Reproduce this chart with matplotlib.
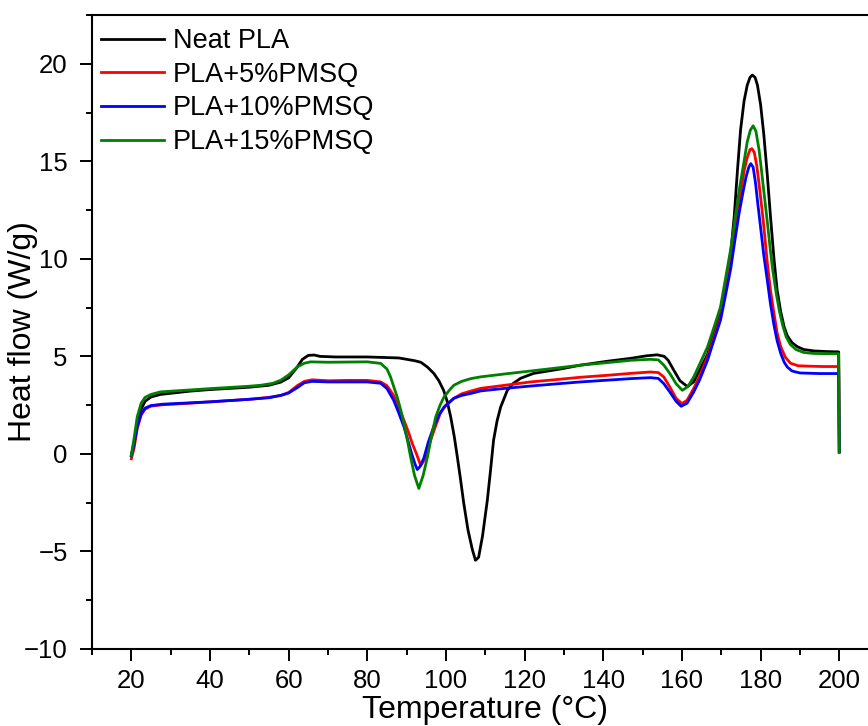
import numpy as np
import matplotlib
matplotlib.use("Agg")
import matplotlib.pyplot as plt
from matplotlib.ticker import MultipleLocator

# DSC curves: temperature (C) and heat flow (W/g)
labels = ["Neat PLA", "PLA+5%PMSQ", "PLA+10%PMSQ", "PLA+15%PMSQ"]
colors = ["#000000", "#ff0000", "#0000ff", "#008000"]

t_neat = [20, 20.7, 21.5, 22.5, 23.5, 25, 27.4, 35, 40, 50, 55, 58, 60, 62, 63.5, 65, 66.5, 68, 72, 80, 88,
          92, 93.6, 95.3, 96.9, 98.2, 99.4, 100.3, 101.2, 102.1, 102.9, 103.7, 104.5, 105.6, 106.7, 107.5,
          108.3, 109.3, 110.5, 111.3, 112.1, 113, 113.9, 115.6, 117, 119, 122.3, 129, 134.2, 141, 147, 151,
          153.7, 155.5, 156.5, 157.9, 159.5, 161.4, 163, 164.5, 166.5, 168, 169.8, 171, 172.4, 173.3, 174.1,
          174.9, 175.8, 176.6, 177.3, 177.9, 178.6, 179.2, 180, 180.8, 181.7, 182.5, 183.4, 184.2, 185.1,
          186, 186.8, 188, 189.3, 191, 193.5, 196.5, 199.85, 200]
hf_neat = [-0.07, 0.6, 1.5, 2.3, 2.7, 2.92, 3.05, 3.22, 3.3, 3.42, 3.52, 3.68, 3.9, 4.4, 4.85, 5.05, 5.07, 5.0,
           4.97, 4.97, 4.92, 4.78, 4.7, 4.45, 4.13, 3.75, 3.26, 2.7, 1.9, 0.9, -0.17, -1.3, -2.5, -3.9, -4.9,
           -5.45, -5.3, -4.2, -2.4, -0.9, 0.7, 1.7, 2.4, 3.26, 3.6, 3.88, 4.13, 4.35, 4.55, 4.75, 4.9, 5.03,
           5.08, 5.0, 4.8, 4.3, 3.75, 3.45, 3.7, 4.3, 5.1, 6.1, 7.35, 8.6, 10.3, 12.2, 14.5, 16.6, 18.1, 18.9,
           19.3, 19.42, 19.3, 18.9, 17.9, 16.4, 14.3, 12.2, 10.0, 8.4, 7.3, 6.5, 6.05, 5.7, 5.5, 5.35, 5.28,
           5.25, 5.23, 0.1]

t_5 = [20, 20.7, 21.5, 22.5, 23.5, 25, 28, 35, 40, 50, 55, 58, 60, 62.2, 64, 66, 70, 75, 80, 83.4, 85, 86.7,
       88, 89.3, 90.5, 91.4, 92.5, 93.6, 94.5, 95.3, 96.1, 97.3, 98.6, 100, 102, 104, 106.3, 108.8, 115,
       121.5, 128, 134.2, 141, 147, 152, 154, 155.4, 157, 158.5, 160, 161.3, 163, 164.5, 166.5, 168, 169.8,
       171, 172.4, 173.3, 174.1, 175, 175.8, 176.6, 177.3, 177.8, 178.4, 179, 179.6, 180.2, 180.7, 181.7,
       182.5, 183.4, 184.2, 185.1, 186.3, 187.6, 189.5, 192, 196, 199.85, 200]
hf_5 = [-0.25, 0.3, 1.3, 2.0, 2.3, 2.45, 2.52, 2.6, 2.67, 2.8, 2.9, 3.0, 3.15, 3.5, 3.72, 3.8, 3.75, 3.77,
        3.77, 3.69, 3.5, 3.0, 2.4, 1.73, 1.1, 0.55, 0.0, -0.6, -0.3, 0.2, 0.7, 1.4, 2.1, 2.5, 2.85, 3.08, 3.22,
        3.36, 3.52, 3.69, 3.81, 3.93, 4.03, 4.13, 4.2, 4.17, 3.94, 3.4, 2.85, 2.58, 2.75, 3.36, 4.0, 4.97,
        5.9, 7.0, 8.3, 9.9, 11.1, 12.2, 13.5, 14.5, 15.2, 15.6, 15.65, 15.45, 14.8, 13.85, 12.8, 11.9, 9.8,
        8.4, 7.2, 6.2, 5.5, 4.95, 4.65, 4.52, 4.5, 4.48, 4.48, 0.1]

t_10 = [20, 20.7, 21.5, 22.5, 23.5, 25, 28, 35, 40, 50, 55, 58, 60, 62.2, 64, 66, 70, 80, 83.4, 85, 86.7, 88,
        89.3, 90.3, 91.4, 92.1, 92.7, 93.4, 94.4, 95.5, 96.9, 98.2, 99.5, 102, 104, 106.3, 108.8, 115, 121.5,
        128, 134.2, 141, 147, 152, 154, 155.4, 157, 158.5, 159.8, 161.3, 163, 164.5, 166.5, 168, 169.8,
        171, 172.4, 173.5, 174.5, 175.5, 176.3, 177, 177.5, 178.1, 178.7, 179.3, 180, 180.8, 181.7, 182.5,
        183.4, 184.2, 185.1, 186, 186.8, 188, 190, 195, 199.85, 200]
hf_10 = [-0.1, 0.5, 1.4, 2.05, 2.35, 2.48, 2.55, 2.62, 2.67, 2.8, 2.88, 3.0, 3.12, 3.4, 3.65, 3.72, 3.69,
         3.69, 3.62, 3.35, 2.75, 2.1, 1.4, 0.7, -0.07, -0.5, -0.8, -0.65, -0.2, 0.6, 1.4, 2.0, 2.4, 2.85, 3.0,
         3.1, 3.23, 3.36, 3.48, 3.59, 3.69, 3.78, 3.86, 3.91, 3.87, 3.6, 3.15, 2.7, 2.44, 2.6, 3.18, 3.8, 4.8,
         5.75, 6.85, 8.05, 9.5, 11.0, 12.3, 13.4, 14.2, 14.7, 14.88, 14.7, 13.9, 12.8, 11.6, 10.2, 8.9, 7.7,
         6.6, 5.8, 5.16, 4.7, 4.45, 4.25, 4.15, 4.12, 4.12, 0.1]

t_15 = [20, 20.7, 21.5, 22.5, 23.5, 25, 27.4, 35, 40.2, 50, 52.9, 56, 58, 60, 62.2, 64, 65.6, 70, 80, 83.4,
        85, 85.9, 86.8, 87.6, 88.5, 89.3, 90.2, 91, 92, 93.1, 94.2, 95.3, 96.3, 97.4, 98.5, 99.5, 101, 102,
        104, 106.3, 108.8, 115, 121.5, 128, 134.2, 141, 147, 152, 154, 155.4, 157, 158.5, 160.1, 161.5, 163,
        164.5, 166.5, 168, 169.8, 171, 172.4, 173.6, 174.7, 175.8, 176.6, 177.4, 178.1, 178.8, 179.6, 180.3,
        180.8, 181.7, 182.5, 183.1, 184, 184.8, 185.6, 186.5, 187.6, 189, 191, 193.5, 196.5, 199.85, 200]
hf_15 = [-0.07, 0.8, 1.9, 2.6, 2.9, 3.05, 3.18, 3.28, 3.35, 3.47, 3.52, 3.62, 3.78, 4.05, 4.46, 4.65, 4.72,
         4.7, 4.72, 4.64, 4.35, 3.95, 3.4, 2.92, 2.25, 1.57, 0.7, -0.15, -1.1, -1.77, -1.1, -0.15, 0.9, 1.9,
         2.5, 2.92, 3.3, 3.52, 3.72, 3.86, 3.95, 4.1, 4.25, 4.4, 4.55, 4.68, 4.8, 4.85, 4.82, 4.55, 4.1, 3.6,
         3.26, 3.45, 3.95, 4.6, 5.48, 6.4, 7.53, 8.9, 10.5, 12.2, 13.7, 15.0, 16.0, 16.6, 16.82, 16.55, 15.6,
         14.4, 13.5, 11.9, 10.4, 9.4, 8.2, 7.3, 6.6, 6.0, 5.6, 5.35, 5.2, 5.15, 5.14, 5.14, 0.1]

temps = [t_neat, t_5, t_10, t_15]
flows = [hf_neat, hf_5, hf_10, hf_15]

plt.rcParams['font.family'] = ['Liberation Sans', 'DejaVu Sans']

fig = plt.figure(figsize=(8.68, 7.26), dpi=100)
# axes run past the right edge of the picture, like the original crop
ax = fig.add_axes([92 / 868, 77 / 726, 786.6 / 868, 634 / 726])

for t, hf, lab, c in zip(temps, flows, labels, colors):
    ax.plot(t, hf, color=c, lw=2.0, label=lab)

ax.set_xlim(10, 210)
ax.set_ylim(-10, 22.5)
ax.xaxis.set_minor_locator(MultipleLocator(10))
ax.yaxis.set_major_locator(MultipleLocator(5))
ax.yaxis.set_minor_locator(MultipleLocator(2.5))
ax.set_xticks(np.arange(20, 201, 20))
ax.tick_params(which="major", direction="out", length=8.5, width=1.4, labelsize=18.5)
ax.tick_params(axis="x", which="major", pad=6)
ax.tick_params(axis="y", which="major", pad=9)
ax.tick_params(which="minor", direction="out", length=4, width=1.4)
for s in ax.spines.values():
    s.set_linewidth(1.5)

ax.set_xlabel("Temperature (°C)", fontsize=23)
ax.set_ylabel("Heat flow (W/g)", fontsize=23)
ax.xaxis.set_label_coords(0.5, -0.073)
ax.yaxis.set_label_coords(-0.069, 0.5)

ax.legend(loc="upper left", bbox_to_anchor=(0.012, 0.979), frameon=False, fontsize=19.5,
          handlelength=2.3, handletextpad=0.35, labelspacing=0.28, borderpad=0, borderaxespad=0)

fig.savefig("out.png", dpi=100)
